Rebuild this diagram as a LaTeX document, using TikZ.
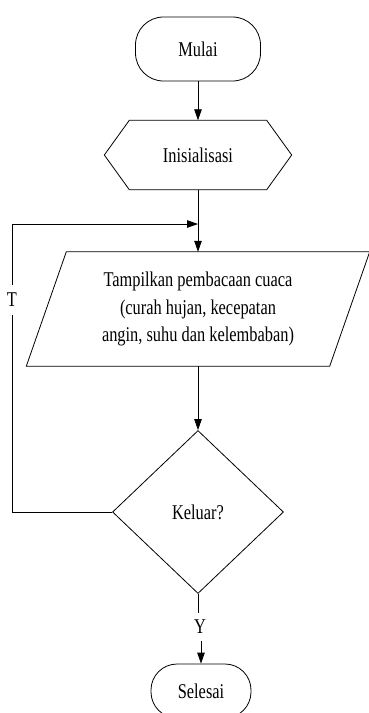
\documentclass[tikz,border=0pt]{standalone}
\usepackage{fontspec}
\setmainfont{Liberation Serif}[FakeStretch=0.78]
\usetikzlibrary{arrows.meta,shapes.geometric}
\begin{document}
\begin{tikzpicture}[x=1pt,y=-1pt,
  every node/.style={font=\fontsize{21}{27.5}\selectfont, inner sep=0pt},
  line/.style={draw=black, line width=0.8pt},
  arr/.style={line, -{Triangle[length=11pt,width=7.5pt]}},
  terminal/.style={line, rectangle, rounded corners=28pt},
  decision/.style={line, diamond, minimum width=171pt, minimum height=163pt},
  plain/.style={rectangle}]
\useasboundingbox (0,0) rectangle (369,713);
\node[terminal, minimum width=125pt, minimum height=64pt] (start) at (198,49) {Mulai};
\node[plain, minimum width=187pt, minimum height=69pt] (init) at (198,155) {Inisialisasi};
\draw[line] (init.west) -- ([xshift=25pt]init.north west) -- ([xshift=-25pt]init.north east)
  -- (init.east) -- ([xshift=-25pt]init.south east) -- ([xshift=25pt]init.south west) -- cycle;
\node[plain, minimum width=303pt, minimum height=114pt, align=center] (io) at (198,309)
  {Tampilkan pembacaan cuaca\\(curah hujan, kecepatan\\angin, suhu dan kelembaban)};
\draw[line] ([xshift=20pt]io.north west) -- ([xshift=20pt]io.north east)
  -- ([xshift=-20pt]io.south east) -- ([xshift=-20pt]io.south west) -- cycle;
\node[decision] (dec) at (198,512) {Keluar?};
\node[terminal, minimum width=100pt, minimum height=54pt, rounded corners=26pt] (stop) at (201,691) {Selesai};
\node[plain, minimum height=28pt] (ylab) at (200,627) {Y};
\node[plain, minimum height=30pt] (tlab) at (12,300) {T};
\coordinate (join) at (198,224);
\draw[arr] (start) -- (init);
\draw[arr] (init.south) -- (io.north -| init.south);
\draw[arr] (io.south -| dec.north) -- (dec.north);
\draw[line] (dec.south) -- (dec.south |- ylab.north);
\draw[arr] (stop.north |- ylab.south) -- (stop.north);
\draw[line] (dec.west) -| (tlab.south);
\draw[arr] (tlab.north) |- (join);
\end{tikzpicture}
\end{document}
